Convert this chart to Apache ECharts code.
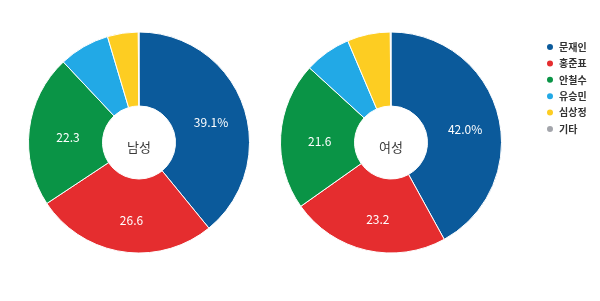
<!DOCTYPE html>
<html><head><meta charset="utf-8">
<script src="https://cdn.jsdelivr.net/npm/echarts@6/dist/echarts.min.js"></script>
<style>html,body{margin:0;padding:0;background:#fff}#c{width:600px;height:301px}</style>
</head><body><div id="c"></div>
<script>
const candidates = ['문재인','홍준표','안철수','유승민','심상정','기타'];
const maleValues = [39.1, 26.6, 22.3, 7.4, 4.5, 0.1];
const femaleValues = [42.0, 23.2, 21.6, 6.8, 6.3, 0.1];
const groupNames = ['남성','여성'];

// styling (kept apart from data)
const colors = ['#0b5a9b','#e52d2f','#0a9446','#22a9e6','#fdcd22','#a3a5ab'];
const labelOffsets = [[0,6],[4,2],[5,4]];
const showLabel = [true,true,true,false,false,false];

const font = '"Noto Sans CJK KR", "Noto Sans", sans-serif';
function buildData(vals){
  return candidates.map((n,i)=>({
    name:n, value:vals[i],
    itemStyle:{color:colors[i]},
    label:{
      show: showLabel[i],
      formatter: i === 0 ? vals[i].toFixed(1) + '%' : vals[i].toFixed(1),
      offset: labelOffsets[i] || [0,0]
    }
  }));
}
function pie(center, vals){
  return {
    type:'pie', center:center, radius:[36.5,110.5], startAngle:90, clockwise:true,
    avoidLabelOverlap:false, silent:true,
    itemStyle:{borderColor:'#fff', borderWidth:1},
    label:{position:'inside', color:'#fff', fontSize:12, fontFamily:font},
    labelLine:{show:false},
    data: buildData(vals)
  };
}
const centers = [[139,142.5],[391,142.5]];
const chart = echarts.init(document.getElementById('c'));
chart.setOption({
  animation:false,
  backgroundColor:'#fff',
  legend:{
    orient:'vertical', left:540, top:36, itemGap:4.4, itemWidth:8, itemHeight:8,
    icon:'circle', data:candidates,
    textStyle:{fontSize:10, lineHeight:12, color:'#333', fontWeight:'bold', fontFamily:font}
  },
  graphic: groupNames.map((g,i)=>({
    type:'text', x:centers[i][0], y:centers[i][1]+4.5, z:100,
    style:{text:g, textAlign:'center', textVerticalAlign:'middle',
      fontSize:13, fill:'#3a3a3a', fontFamily:font}
  })),
  series:[
    pie(centers[0], maleValues),
    pie(centers[1], femaleValues)
  ]
});
</script></body></html>
